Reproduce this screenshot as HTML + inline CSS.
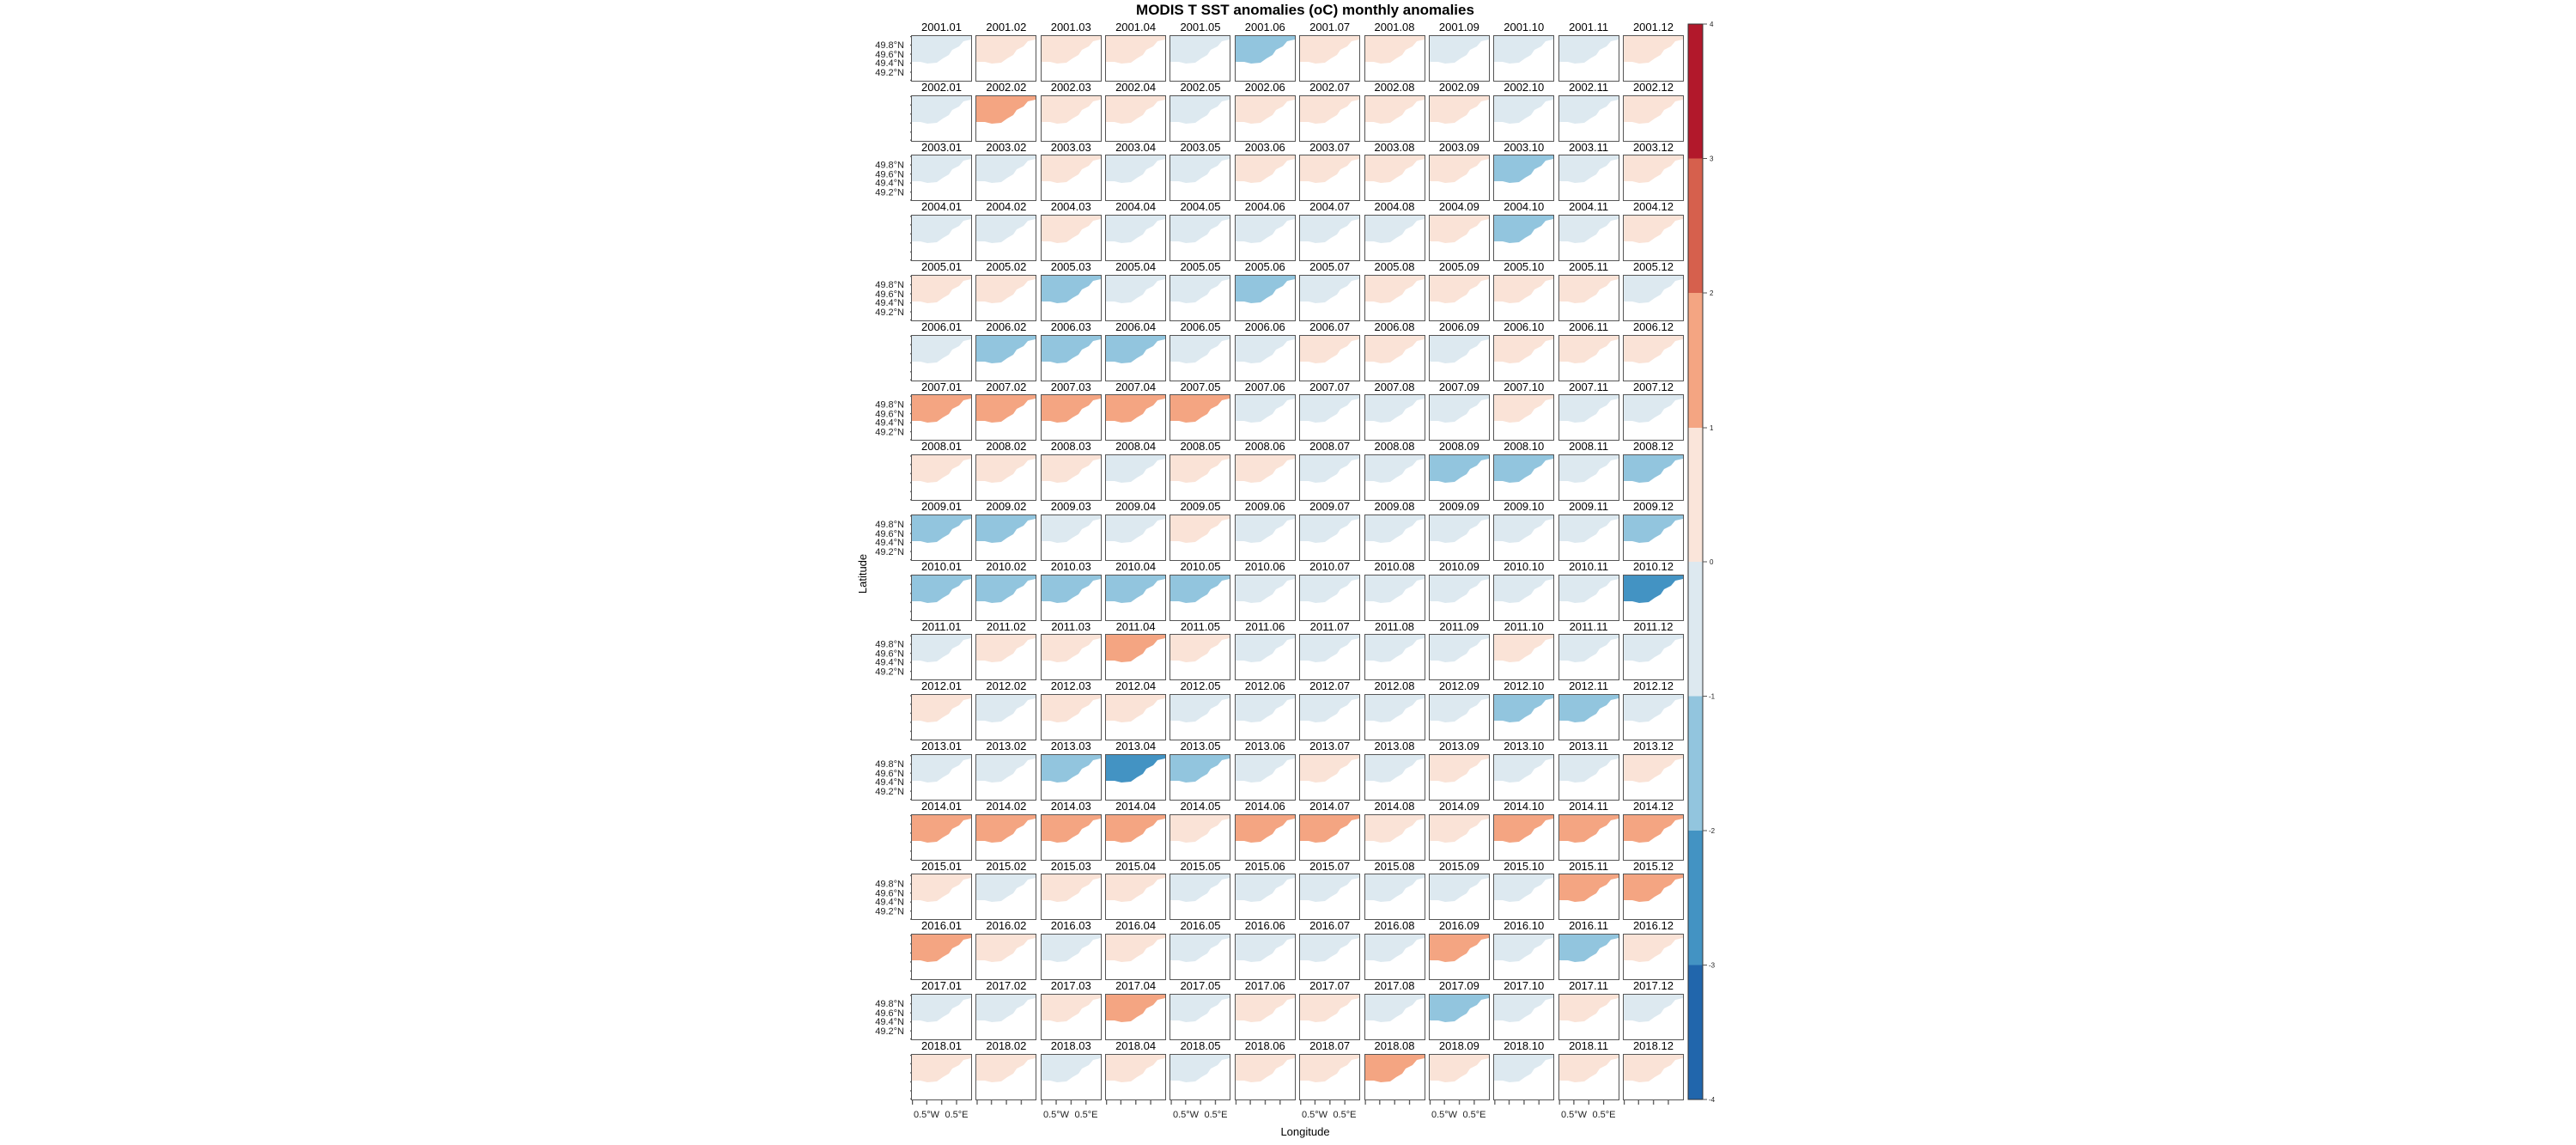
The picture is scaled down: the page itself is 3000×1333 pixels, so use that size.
<!DOCTYPE html>
<html><head><meta charset="utf-8"><style>
body{margin:0;width:3000px;height:1333px;background:#fff;position:relative;overflow:hidden;font-family:"Liberation Sans",sans-serif}
#g{position:absolute;left:1062px;top:24.24px;display:grid;grid-template-columns:repeat(12,69px);column-gap:6.36px;grid-auto-rows:69.76px}
#g>div{position:relative}
#g span{display:block;height:17.76px;line-height:15px;font-size:13px;text-align:center;white-space:nowrap;margin:0 -6px}
#g svg{display:block;width:69px;height:52px;box-sizing:border-box;outline:1.3px solid #555;outline-offset:-0.65px}
.n{fill:#fae3d7}.b{fill:#dde9f0}.P{fill:#f4a582}.B{fill:#92c5de}.D{fill:#4393c3}
</style></head><body>
<svg width="0" height="0" style="position:absolute"><defs><path id="s" d="M0,0H69V4L60,6L55,12L47,16L43,22L36,26L29,31L18,32L10,30L0,30Z"/></defs></svg>
<div style="position:absolute;left:0;width:3040px;top:2px;text-align:center;font-weight:bold;font-size:17px">MODIS T SST anomalies (oC) monthly anomalies</div>
<div id="g">
<div><span>2001.01</span><svg class="b"><use href="#s"/></svg></div><div><span>2001.02</span><svg class="n"><use href="#s"/></svg></div><div><span>2001.03</span><svg class="n"><use href="#s"/></svg></div><div><span>2001.04</span><svg class="n"><use href="#s"/></svg></div><div><span>2001.05</span><svg class="b"><use href="#s"/></svg></div><div><span>2001.06</span><svg class="B"><use href="#s"/></svg></div><div><span>2001.07</span><svg class="n"><use href="#s"/></svg></div><div><span>2001.08</span><svg class="n"><use href="#s"/></svg></div><div><span>2001.09</span><svg class="b"><use href="#s"/></svg></div><div><span>2001.10</span><svg class="b"><use href="#s"/></svg></div><div><span>2001.11</span><svg class="b"><use href="#s"/></svg></div><div><span>2001.12</span><svg class="n"><use href="#s"/></svg></div>
<div><span>2002.01</span><svg class="b"><use href="#s"/></svg></div><div><span>2002.02</span><svg class="P"><use href="#s"/></svg></div><div><span>2002.03</span><svg class="n"><use href="#s"/></svg></div><div><span>2002.04</span><svg class="n"><use href="#s"/></svg></div><div><span>2002.05</span><svg class="b"><use href="#s"/></svg></div><div><span>2002.06</span><svg class="n"><use href="#s"/></svg></div><div><span>2002.07</span><svg class="n"><use href="#s"/></svg></div><div><span>2002.08</span><svg class="n"><use href="#s"/></svg></div><div><span>2002.09</span><svg class="n"><use href="#s"/></svg></div><div><span>2002.10</span><svg class="b"><use href="#s"/></svg></div><div><span>2002.11</span><svg class="b"><use href="#s"/></svg></div><div><span>2002.12</span><svg class="n"><use href="#s"/></svg></div>
<div><span>2003.01</span><svg class="b"><use href="#s"/></svg></div><div><span>2003.02</span><svg class="b"><use href="#s"/></svg></div><div><span>2003.03</span><svg class="n"><use href="#s"/></svg></div><div><span>2003.04</span><svg class="b"><use href="#s"/></svg></div><div><span>2003.05</span><svg class="b"><use href="#s"/></svg></div><div><span>2003.06</span><svg class="n"><use href="#s"/></svg></div><div><span>2003.07</span><svg class="n"><use href="#s"/></svg></div><div><span>2003.08</span><svg class="n"><use href="#s"/></svg></div><div><span>2003.09</span><svg class="n"><use href="#s"/></svg></div><div><span>2003.10</span><svg class="B"><use href="#s"/></svg></div><div><span>2003.11</span><svg class="b"><use href="#s"/></svg></div><div><span>2003.12</span><svg class="n"><use href="#s"/></svg></div>
<div><span>2004.01</span><svg class="b"><use href="#s"/></svg></div><div><span>2004.02</span><svg class="b"><use href="#s"/></svg></div><div><span>2004.03</span><svg class="n"><use href="#s"/></svg></div><div><span>2004.04</span><svg class="b"><use href="#s"/></svg></div><div><span>2004.05</span><svg class="b"><use href="#s"/></svg></div><div><span>2004.06</span><svg class="b"><use href="#s"/></svg></div><div><span>2004.07</span><svg class="b"><use href="#s"/></svg></div><div><span>2004.08</span><svg class="b"><use href="#s"/></svg></div><div><span>2004.09</span><svg class="n"><use href="#s"/></svg></div><div><span>2004.10</span><svg class="B"><use href="#s"/></svg></div><div><span>2004.11</span><svg class="b"><use href="#s"/></svg></div><div><span>2004.12</span><svg class="n"><use href="#s"/></svg></div>
<div><span>2005.01</span><svg class="n"><use href="#s"/></svg></div><div><span>2005.02</span><svg class="n"><use href="#s"/></svg></div><div><span>2005.03</span><svg class="B"><use href="#s"/></svg></div><div><span>2005.04</span><svg class="b"><use href="#s"/></svg></div><div><span>2005.05</span><svg class="b"><use href="#s"/></svg></div><div><span>2005.06</span><svg class="B"><use href="#s"/></svg></div><div><span>2005.07</span><svg class="b"><use href="#s"/></svg></div><div><span>2005.08</span><svg class="n"><use href="#s"/></svg></div><div><span>2005.09</span><svg class="n"><use href="#s"/></svg></div><div><span>2005.10</span><svg class="n"><use href="#s"/></svg></div><div><span>2005.11</span><svg class="n"><use href="#s"/></svg></div><div><span>2005.12</span><svg class="b"><use href="#s"/></svg></div>
<div><span>2006.01</span><svg class="b"><use href="#s"/></svg></div><div><span>2006.02</span><svg class="B"><use href="#s"/></svg></div><div><span>2006.03</span><svg class="B"><use href="#s"/></svg></div><div><span>2006.04</span><svg class="B"><use href="#s"/></svg></div><div><span>2006.05</span><svg class="b"><use href="#s"/></svg></div><div><span>2006.06</span><svg class="b"><use href="#s"/></svg></div><div><span>2006.07</span><svg class="n"><use href="#s"/></svg></div><div><span>2006.08</span><svg class="n"><use href="#s"/></svg></div><div><span>2006.09</span><svg class="b"><use href="#s"/></svg></div><div><span>2006.10</span><svg class="n"><use href="#s"/></svg></div><div><span>2006.11</span><svg class="n"><use href="#s"/></svg></div><div><span>2006.12</span><svg class="n"><use href="#s"/></svg></div>
<div><span>2007.01</span><svg class="P"><use href="#s"/></svg></div><div><span>2007.02</span><svg class="P"><use href="#s"/></svg></div><div><span>2007.03</span><svg class="P"><use href="#s"/></svg></div><div><span>2007.04</span><svg class="P"><use href="#s"/></svg></div><div><span>2007.05</span><svg class="P"><use href="#s"/></svg></div><div><span>2007.06</span><svg class="b"><use href="#s"/></svg></div><div><span>2007.07</span><svg class="b"><use href="#s"/></svg></div><div><span>2007.08</span><svg class="b"><use href="#s"/></svg></div><div><span>2007.09</span><svg class="b"><use href="#s"/></svg></div><div><span>2007.10</span><svg class="n"><use href="#s"/></svg></div><div><span>2007.11</span><svg class="b"><use href="#s"/></svg></div><div><span>2007.12</span><svg class="b"><use href="#s"/></svg></div>
<div><span>2008.01</span><svg class="n"><use href="#s"/></svg></div><div><span>2008.02</span><svg class="n"><use href="#s"/></svg></div><div><span>2008.03</span><svg class="n"><use href="#s"/></svg></div><div><span>2008.04</span><svg class="b"><use href="#s"/></svg></div><div><span>2008.05</span><svg class="n"><use href="#s"/></svg></div><div><span>2008.06</span><svg class="n"><use href="#s"/></svg></div><div><span>2008.07</span><svg class="b"><use href="#s"/></svg></div><div><span>2008.08</span><svg class="b"><use href="#s"/></svg></div><div><span>2008.09</span><svg class="B"><use href="#s"/></svg></div><div><span>2008.10</span><svg class="B"><use href="#s"/></svg></div><div><span>2008.11</span><svg class="b"><use href="#s"/></svg></div><div><span>2008.12</span><svg class="B"><use href="#s"/></svg></div>
<div><span>2009.01</span><svg class="B"><use href="#s"/></svg></div><div><span>2009.02</span><svg class="B"><use href="#s"/></svg></div><div><span>2009.03</span><svg class="b"><use href="#s"/></svg></div><div><span>2009.04</span><svg class="b"><use href="#s"/></svg></div><div><span>2009.05</span><svg class="n"><use href="#s"/></svg></div><div><span>2009.06</span><svg class="b"><use href="#s"/></svg></div><div><span>2009.07</span><svg class="b"><use href="#s"/></svg></div><div><span>2009.08</span><svg class="b"><use href="#s"/></svg></div><div><span>2009.09</span><svg class="b"><use href="#s"/></svg></div><div><span>2009.10</span><svg class="b"><use href="#s"/></svg></div><div><span>2009.11</span><svg class="b"><use href="#s"/></svg></div><div><span>2009.12</span><svg class="B"><use href="#s"/></svg></div>
<div><span>2010.01</span><svg class="B"><use href="#s"/></svg></div><div><span>2010.02</span><svg class="B"><use href="#s"/></svg></div><div><span>2010.03</span><svg class="B"><use href="#s"/></svg></div><div><span>2010.04</span><svg class="B"><use href="#s"/></svg></div><div><span>2010.05</span><svg class="B"><use href="#s"/></svg></div><div><span>2010.06</span><svg class="b"><use href="#s"/></svg></div><div><span>2010.07</span><svg class="b"><use href="#s"/></svg></div><div><span>2010.08</span><svg class="b"><use href="#s"/></svg></div><div><span>2010.09</span><svg class="b"><use href="#s"/></svg></div><div><span>2010.10</span><svg class="b"><use href="#s"/></svg></div><div><span>2010.11</span><svg class="b"><use href="#s"/></svg></div><div><span>2010.12</span><svg class="D"><use href="#s"/></svg></div>
<div><span>2011.01</span><svg class="b"><use href="#s"/></svg></div><div><span>2011.02</span><svg class="n"><use href="#s"/></svg></div><div><span>2011.03</span><svg class="n"><use href="#s"/></svg></div><div><span>2011.04</span><svg class="P"><use href="#s"/></svg></div><div><span>2011.05</span><svg class="n"><use href="#s"/></svg></div><div><span>2011.06</span><svg class="b"><use href="#s"/></svg></div><div><span>2011.07</span><svg class="b"><use href="#s"/></svg></div><div><span>2011.08</span><svg class="b"><use href="#s"/></svg></div><div><span>2011.09</span><svg class="b"><use href="#s"/></svg></div><div><span>2011.10</span><svg class="n"><use href="#s"/></svg></div><div><span>2011.11</span><svg class="b"><use href="#s"/></svg></div><div><span>2011.12</span><svg class="b"><use href="#s"/></svg></div>
<div><span>2012.01</span><svg class="n"><use href="#s"/></svg></div><div><span>2012.02</span><svg class="b"><use href="#s"/></svg></div><div><span>2012.03</span><svg class="n"><use href="#s"/></svg></div><div><span>2012.04</span><svg class="n"><use href="#s"/></svg></div><div><span>2012.05</span><svg class="b"><use href="#s"/></svg></div><div><span>2012.06</span><svg class="b"><use href="#s"/></svg></div><div><span>2012.07</span><svg class="b"><use href="#s"/></svg></div><div><span>2012.08</span><svg class="b"><use href="#s"/></svg></div><div><span>2012.09</span><svg class="b"><use href="#s"/></svg></div><div><span>2012.10</span><svg class="B"><use href="#s"/></svg></div><div><span>2012.11</span><svg class="B"><use href="#s"/></svg></div><div><span>2012.12</span><svg class="b"><use href="#s"/></svg></div>
<div><span>2013.01</span><svg class="b"><use href="#s"/></svg></div><div><span>2013.02</span><svg class="b"><use href="#s"/></svg></div><div><span>2013.03</span><svg class="B"><use href="#s"/></svg></div><div><span>2013.04</span><svg class="D"><use href="#s"/></svg></div><div><span>2013.05</span><svg class="B"><use href="#s"/></svg></div><div><span>2013.06</span><svg class="b"><use href="#s"/></svg></div><div><span>2013.07</span><svg class="n"><use href="#s"/></svg></div><div><span>2013.08</span><svg class="b"><use href="#s"/></svg></div><div><span>2013.09</span><svg class="n"><use href="#s"/></svg></div><div><span>2013.10</span><svg class="b"><use href="#s"/></svg></div><div><span>2013.11</span><svg class="b"><use href="#s"/></svg></div><div><span>2013.12</span><svg class="n"><use href="#s"/></svg></div>
<div><span>2014.01</span><svg class="P"><use href="#s"/></svg></div><div><span>2014.02</span><svg class="P"><use href="#s"/></svg></div><div><span>2014.03</span><svg class="P"><use href="#s"/></svg></div><div><span>2014.04</span><svg class="P"><use href="#s"/></svg></div><div><span>2014.05</span><svg class="n"><use href="#s"/></svg></div><div><span>2014.06</span><svg class="P"><use href="#s"/></svg></div><div><span>2014.07</span><svg class="P"><use href="#s"/></svg></div><div><span>2014.08</span><svg class="n"><use href="#s"/></svg></div><div><span>2014.09</span><svg class="n"><use href="#s"/></svg></div><div><span>2014.10</span><svg class="P"><use href="#s"/></svg></div><div><span>2014.11</span><svg class="P"><use href="#s"/></svg></div><div><span>2014.12</span><svg class="P"><use href="#s"/></svg></div>
<div><span>2015.01</span><svg class="n"><use href="#s"/></svg></div><div><span>2015.02</span><svg class="b"><use href="#s"/></svg></div><div><span>2015.03</span><svg class="n"><use href="#s"/></svg></div><div><span>2015.04</span><svg class="n"><use href="#s"/></svg></div><div><span>2015.05</span><svg class="b"><use href="#s"/></svg></div><div><span>2015.06</span><svg class="b"><use href="#s"/></svg></div><div><span>2015.07</span><svg class="b"><use href="#s"/></svg></div><div><span>2015.08</span><svg class="b"><use href="#s"/></svg></div><div><span>2015.09</span><svg class="b"><use href="#s"/></svg></div><div><span>2015.10</span><svg class="b"><use href="#s"/></svg></div><div><span>2015.11</span><svg class="P"><use href="#s"/></svg></div><div><span>2015.12</span><svg class="P"><use href="#s"/></svg></div>
<div><span>2016.01</span><svg class="P"><use href="#s"/></svg></div><div><span>2016.02</span><svg class="n"><use href="#s"/></svg></div><div><span>2016.03</span><svg class="b"><use href="#s"/></svg></div><div><span>2016.04</span><svg class="n"><use href="#s"/></svg></div><div><span>2016.05</span><svg class="b"><use href="#s"/></svg></div><div><span>2016.06</span><svg class="b"><use href="#s"/></svg></div><div><span>2016.07</span><svg class="b"><use href="#s"/></svg></div><div><span>2016.08</span><svg class="b"><use href="#s"/></svg></div><div><span>2016.09</span><svg class="P"><use href="#s"/></svg></div><div><span>2016.10</span><svg class="b"><use href="#s"/></svg></div><div><span>2016.11</span><svg class="B"><use href="#s"/></svg></div><div><span>2016.12</span><svg class="n"><use href="#s"/></svg></div>
<div><span>2017.01</span><svg class="b"><use href="#s"/></svg></div><div><span>2017.02</span><svg class="b"><use href="#s"/></svg></div><div><span>2017.03</span><svg class="n"><use href="#s"/></svg></div><div><span>2017.04</span><svg class="P"><use href="#s"/></svg></div><div><span>2017.05</span><svg class="b"><use href="#s"/></svg></div><div><span>2017.06</span><svg class="n"><use href="#s"/></svg></div><div><span>2017.07</span><svg class="n"><use href="#s"/></svg></div><div><span>2017.08</span><svg class="b"><use href="#s"/></svg></div><div><span>2017.09</span><svg class="B"><use href="#s"/></svg></div><div><span>2017.10</span><svg class="b"><use href="#s"/></svg></div><div><span>2017.11</span><svg class="n"><use href="#s"/></svg></div><div><span>2017.12</span><svg class="b"><use href="#s"/></svg></div>
<div><span>2018.01</span><svg class="n"><use href="#s"/></svg></div><div><span>2018.02</span><svg class="n"><use href="#s"/></svg></div><div><span>2018.03</span><svg class="b"><use href="#s"/></svg></div><div><span>2018.04</span><svg class="n"><use href="#s"/></svg></div><div><span>2018.05</span><svg class="b"><use href="#s"/></svg></div><div><span>2018.06</span><svg class="n"><use href="#s"/></svg></div><div><span>2018.07</span><svg class="n"><use href="#s"/></svg></div><div><span>2018.08</span><svg class="P"><use href="#s"/></svg></div><div><span>2018.09</span><svg class="n"><use href="#s"/></svg></div><div><span>2018.10</span><svg class="b"><use href="#s"/></svg></div><div><span>2018.11</span><svg class="n"><use href="#s"/></svg></div><div><span>2018.12</span><svg class="n"><use href="#s"/></svg></div>
</div>
<svg width="3000" height="1333" style="position:absolute;left:0;top:0" font-family="Liberation Sans, sans-serif">
<defs>
<pattern id="lt" x="0" y="42" width="10" height="69.76" patternUnits="userSpaceOnUse">
<g stroke="#555" stroke-width="1.3"><line x1="0" y1="0.6" x2="6" y2="0.6"/><line x1="0" y1="10.5" x2="6" y2="10.5"/><line x1="0" y1="21" x2="6" y2="21"/><line x1="0" y1="31.5" x2="6" y2="31.5"/><line x1="0" y1="42" x2="6" y2="42"/><line x1="0" y1="51.4" x2="6" y2="51.4"/></g>
</pattern>
<pattern id="bt" x="1062" y="0" width="75.36" height="10" patternUnits="userSpaceOnUse">
<g stroke="#555" stroke-width="1.3"><line x1="0.6" y1="0" x2="0.6" y2="6"/><line x1="17.3" y1="0" x2="17.3" y2="6"/><line x1="34.7" y1="0" x2="34.7" y2="6"/><line x1="52" y1="0" x2="52" y2="6"/></g>
</pattern>
</defs>
<rect x="1056" y="42" width="6" height="1238" fill="url(#lt)"/>
<rect x="1062" y="1280" width="898" height="6" fill="url(#bt)"/>
<g font-size="11" text-anchor="end" fill="#222">
<text x="1053" y="56">49.8°N</text><text x="1053" y="67">49.6°N</text><text x="1053" y="77">49.4°N</text><text x="1053" y="88">49.2°N</text>
<text x="1053" y="195.5">49.8°N</text><text x="1053" y="206.5">49.6°N</text><text x="1053" y="216.5">49.4°N</text><text x="1053" y="227.5">49.2°N</text>
<text x="1053" y="335">49.8°N</text><text x="1053" y="346">49.6°N</text><text x="1053" y="356">49.4°N</text><text x="1053" y="367">49.2°N</text>
<text x="1053" y="474.5">49.8°N</text><text x="1053" y="485.5">49.6°N</text><text x="1053" y="495.5">49.4°N</text><text x="1053" y="506.5">49.2°N</text>
<text x="1053" y="614">49.8°N</text><text x="1053" y="625">49.6°N</text><text x="1053" y="635">49.4°N</text><text x="1053" y="646">49.2°N</text>
<text x="1053" y="753.5">49.8°N</text><text x="1053" y="764.5">49.6°N</text><text x="1053" y="774.5">49.4°N</text><text x="1053" y="785.5">49.2°N</text>
<text x="1053" y="893">49.8°N</text><text x="1053" y="904">49.6°N</text><text x="1053" y="914">49.4°N</text><text x="1053" y="925">49.2°N</text>
<text x="1053" y="1032.5">49.8°N</text><text x="1053" y="1043.5">49.6°N</text><text x="1053" y="1053.5">49.4°N</text><text x="1053" y="1064.5">49.2°N</text>
<text x="1053" y="1172">49.8°N</text><text x="1053" y="1183">49.6°N</text><text x="1053" y="1193">49.4°N</text><text x="1053" y="1204">49.2°N</text>
</g>
<g font-size="11" text-anchor="middle" fill="#222">
<text x="1079" y="1301">0.5°W</text><text x="1114" y="1301">0.5°E</text>
<text x="1230" y="1301">0.5°W</text><text x="1265" y="1301">0.5°E</text>
<text x="1381" y="1301">0.5°W</text><text x="1416" y="1301">0.5°E</text>
<text x="1531" y="1301">0.5°W</text><text x="1566" y="1301">0.5°E</text>
<text x="1682" y="1301">0.5°W</text><text x="1717" y="1301">0.5°E</text>
<text x="1833" y="1301">0.5°W</text><text x="1868" y="1301">0.5°E</text>
</g>
<text x="1520" y="1322" font-size="13" text-anchor="middle">Longitude</text>
<text transform="translate(1009,668) rotate(-90)" font-size="13" text-anchor="middle">Latitude</text>
<g>
<rect x="1966" y="28" width="17" height="156.5" fill="#b2182b"/>
<rect x="1966" y="184.5" width="17" height="156.5" fill="#d6604d"/>
<rect x="1966" y="341" width="17" height="157" fill="#f4a582"/>
<rect x="1966" y="498" width="17" height="156" fill="#fae5da"/>
<rect x="1966" y="654" width="17" height="156.5" fill="#dde9f0"/>
<rect x="1966" y="810.5" width="17" height="156.5" fill="#92c5de"/>
<rect x="1966" y="967" width="17" height="156.5" fill="#4393c3"/>
<rect x="1966" y="1123.5" width="17" height="156.5" fill="#2166ac"/>
<rect x="1966" y="28" width="17" height="1252" fill="none" stroke="#333" stroke-width="1"/>
<g stroke="#555" stroke-width="1"><line x1="1983" y1="28" x2="1988" y2="28"/><line x1="1983" y1="184.5" x2="1988" y2="184.5"/><line x1="1983" y1="341" x2="1988" y2="341"/><line x1="1983" y1="498" x2="1988" y2="498"/><line x1="1983" y1="654" x2="1988" y2="654"/><line x1="1983" y1="810.5" x2="1988" y2="810.5"/><line x1="1983" y1="967" x2="1988" y2="967"/><line x1="1983" y1="1123.5" x2="1988" y2="1123.5"/><line x1="1983" y1="1280" x2="1988" y2="1280"/></g>
<g font-size="8" fill="#222"><text x="1991" y="31">4</text><text x="1991" y="187.5">3</text><text x="1991" y="344">2</text><text x="1991" y="501">1</text><text x="1991" y="657">0</text><text x="1990" y="813.5">-1</text><text x="1990" y="970">-2</text><text x="1990" y="1126.5">-3</text><text x="1990" y="1283">-4</text></g>
</g>
</svg>
</body></html>
